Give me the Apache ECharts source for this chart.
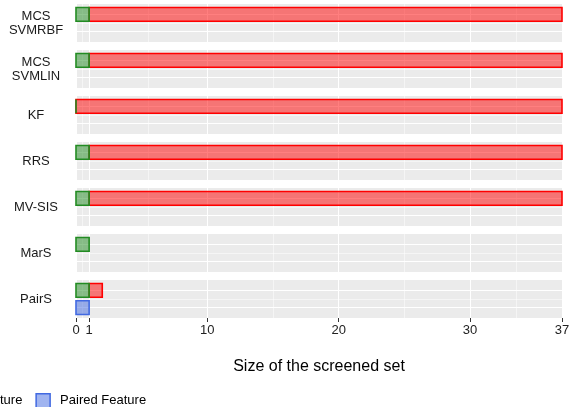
<!DOCTYPE html>
<html><head><meta charset="utf-8">
<script src="https://cdn.jsdelivr.net/npm/echarts@6/dist/echarts.min.js"></script>
<style>html,body{margin:0;padding:0;background:#fff}#c{width:570px;height:407px}</style>
</head><body><div id="c"></div>
<script>
// ---- data ----
const facets = ['MCS\nSVMRBF', 'MCS\nSVMLIN', 'KF', 'RRS', 'MV-SIS', 'MarS', 'PairS'];
const marginalSize = [1, 1, 0, 1, 1, 1, 1];      // green bar end (row 1)
const totalSize    = [37, 37, 37, 37, 37, 1, 2]; // red bar end (row 1)
const pairedSize   = [0, 0, 0, 0, 0, 0, 1];      // blue bar end (row 2)
const xTicks = [0, 1, 10, 20, 30, 37];
const seriesNames = ['Irrelevant Feature', 'Marginal Feature', 'Paired Feature'];

// ---- styles ----
const FONT = 'Liberation Sans, Arial, sans-serif';
const fills = ['rgba(255,0,0,0.5)', 'rgba(34,139,34,0.5)', 'rgba(65,105,225,0.5)'];
const strokes = ['#FF0000', '#228B22', '#4169E1'];
const xMinor = xTicks.slice(1).map((v, k) => (v + xTicks[k]) / 2);

function renderRect(fill, stroke) {
  return function (params, api) {
    const y = api.value(0), a = api.value(1), b = api.value(2);
    const p0 = api.coord([a, y - 0.4]), p1 = api.coord([b, y + 0.4]);
    return {
      type: 'rect',
      shape: { x: Math.min(p0[0], p1[0]), y: Math.min(p0[1], p1[1]),
               width: Math.abs(p1[0] - p0[0]), height: Math.abs(p1[1] - p0[1]) },
      style: { fill: fill, stroke: stroke, lineWidth: 1.6 }
    };
  };
}

const grids = [], xAxes = [], yAxes = [], series = [];
const top0 = 4, panelH = 38, step = 46;
facets.forEach((f, i) => {
  const last = i === facets.length - 1;
  grids.push({ left: 76, right: 8, top: top0 + i * step, height: panelH, show: true,
    backgroundColor: '#EBEBEB', borderWidth: 0, containLabel: false, outerBoundsMode: 'none' });
  xAxes.push({ gridIndex: i, type: 'value', min: 0, max: 37,
    axisLine: { show: false }, splitLine: { show: false },
    axisTick: { show: last, customValues: xTicks, length: 4, lineStyle: { color: '#333', width: 1 } },
    axisLabel: { show: last, customValues: xTicks, margin: 6, fontSize: 13, color: '#222', fontFamily: FONT },
    name: last ? 'Size of the screened set' : '', nameLocation: 'middle', nameGap: 41,
    nameTextStyle: { fontSize: 16, color: '#000', fontFamily: FONT } });
  yAxes.push({ gridIndex: i, type: 'value', min: 0.4, max: 2.6, inverse: true,
    axisLine: { show: false }, axisTick: { show: false }, splitLine: { show: false },
    axisLabel: { customValues: [1.5], formatter: () => f, align: 'center', margin: 40,
      fontSize: 13, lineHeight: 14, color: '#1A1A1A', fontFamily: FONT } });

  // grid lines
  const ml = [];
  xMinor.forEach(v => ml.push({ xAxis: v, lineStyle: { width: 0.5 } }));
  xTicks.forEach(v => ml.push({ xAxis: v, lineStyle: { width: 1.1 } }));
  ml.push({ yAxis: 1.5, lineStyle: { width: 0.5 } });
  ml.push({ yAxis: 1, lineStyle: { width: 1.1 } });
  ml.push({ yAxis: 2, lineStyle: { width: 1.1 } });
  series.push({ type: 'line', xAxisIndex: i, yAxisIndex: i, data: [], silent: true, z: 1,
    markLine: { silent: true, z: 1, zlevel: 0, symbol: 'none', label: { show: false },
      lineStyle: { color: '#FFFFFF', type: 'solid' }, data: ml } });

  const redData = totalSize[i] > marginalSize[i] ? [[1, marginalSize[i], totalSize[i]]] : [];
  const greenData = [[1, 0, marginalSize[i]]];
  const blueData = pairedSize[i] > 0 ? [[2, 0, pairedSize[i]]] : [];
  [redData, greenData, blueData].forEach((d, k) => {
    series.push({ type: 'custom', name: seriesNames[k], xAxisIndex: i, yAxisIndex: i, clip: false, z: 3,
      itemStyle: { color: fills[k], borderColor: strokes[k] },
      encode: { x: [1, 2], y: 0 }, renderItem: renderRect(fills[k], strokes[k]), data: d });
  });
});

// legend placement: its right edge sits at x = 144 (it runs off the left side)
const ctx = document.createElement('canvas').getContext('2d');
ctx.font = '13px ' + FONT;
const keyW = 14, keyGap = 10, itemGap = 13;
let legendW = 0;
seriesNames.forEach((n, k) => { legendW += keyW + keyGap + ctx.measureText(n).width + (k ? itemGap : 0); });
const legendLeft = Math.round(144 - legendW);

const chart = echarts.init(document.getElementById('c'), null, { renderer: 'canvas' });
chart.setOption({
  animation: false,
  backgroundColor: '#FFFFFF',
  textStyle: { fontFamily: FONT },
  grid: grids, xAxis: xAxes, yAxis: yAxes, series: series,
  legend: {
    left: legendLeft, top: 393, width: 1000, padding: 0, icon: 'rect', itemWidth: keyW, itemHeight: 14, itemGap: itemGap,
    textStyle: { fontSize: 13, color: '#000', fontFamily: FONT, padding: [0, 0, 0, 5] },
    data: seriesNames.map((n, k) => ({ name: n, itemStyle: { color: fills[k], borderColor: strokes[k], borderWidth: 1.5 } }))
  }
});
</script></body></html>
